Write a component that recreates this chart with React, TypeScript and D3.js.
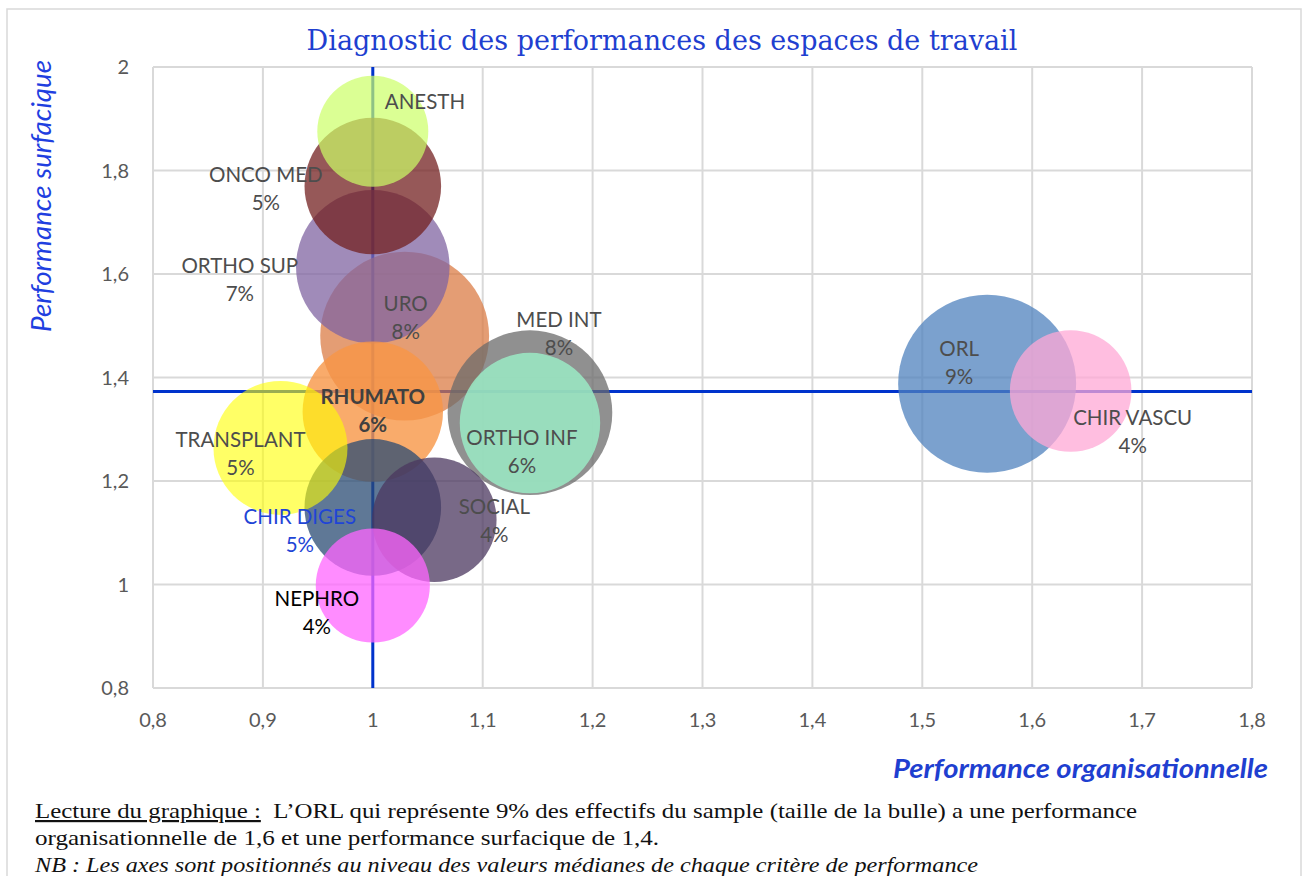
import React, { useEffect, useRef } from 'react';
import * as d3 from 'd3';

// services, largest bubble first (Excel draws the big ones underneath)
const services = ['ORL', 'URO', 'MED INT', 'ORTHO SUP', 'RHUMATO', 'ORTHO INF', 'ONCO MED', 'CHIR DIGES', 'TRANSPLANT', 'SOCIAL', 'CHIR VASCU', 'NEPHRO', 'ANESTH'];
const perfOrga = [1.559, 1.029, 1.143, 1.0, 1.0, 1.143, 1.0, 1.0, 0.916, 1.056, 1.635, 1.0, 1.0];
const perfSurf = [1.388, 1.48, 1.332, 1.614, 1.334, 1.312, 1.77, 1.149, 1.264, 1.125, 1.374, 0.998, 1.876];
const effectifs = [9, 8.1, 7.7, 6.7, 5.6, 5.6, 5.3, 5.3, 5.1, 4.4, 4.2, 3.7, 3.5];
const showPct = [true, true, true, true, true, true, true, true, true, true, true, true, false];

const xTicks = [0.8, 0.9, 1, 1.1, 1.2, 1.3, 1.4, 1.5, 1.6, 1.7, 1.8];
const yTicks = [0.8, 1, 1.2, 1.4, 1.6, 1.8, 2];
const medianOrga = 1.0;
const medianSurf = 1.373;

const title = 'Diagnostic des performances des espaces de travail';
const yTitle = 'Performance surfacique';
const xTitle = 'Performance organisationnelle';
const note1a = 'Lecture du graphique :';
const note1b = '  L\u2019ORL qui représente 9% des effectifs du sample (taille de la bulle) a une performance';
const note2 = 'organisationnelle de 1,6 et une performance surfacique de 1,4.';
const note3 = 'NB : Les axes sont positionnés au niveau des valeurs médianes de chaque critère de performance';

// look of each bubble: fill, opacity, label offset from centre, label colour
const styles: Record<string, { fill: string; op: number; dx: number; dy: number; color?: string; bold?: boolean; anchor?: string }> = {
  'ORL': { fill: '#4F81BD', op: 0.75, dx: -28, dy: -35 },
  'URO': { fill: '#D9773F', op: 0.72, dx: 1, dy: -32 },
  'MED INT': { fill: '#6B6B6B', op: 0.75, dx: 29, dy: -93 },
  'ORTHO SUP': { fill: '#8064A2', op: 0.75, dx: -133, dy: -1 },
  'RHUMATO': { fill: '#F79646', op: 0.8, dx: 0, dy: -15, color: '#404040', bold: true },
  'ORTHO INF': { fill: '#9BEBC6', op: 0.85, dx: -8, dy: 15 },
  'ONCO MED': { fill: '#732020', op: 0.75, dx: -107, dy: -11 },
  'CHIR DIGES': { fill: '#2A4B73', op: 0.75, dx: -73, dy: 10, color: '#1F45D6' },
  'TRANSPLANT': { fill: '#FFFF00', op: 0.6, dx: -40, dy: -8 },
  'SOCIAL': { fill: '#4B375F', op: 0.75, dx: 60, dy: -13 },
  'CHIR VASCU': { fill: '#FFA8D6', op: 0.75, dx: 62, dy: 27 },
  'NEPHRO': { fill: '#FF66FF', op: 0.75, dx: -56, dy: 13, color: '#000000' },
  'ANESTH': { fill: '#CCFF66', op: 0.7, dx: 12, dy: -29, anchor: 'start' },
};

const W = 1303;
const H = 876;
const sans = 'Lato, "Open Sans", sans-serif';

export default function App() {
  const ref = useRef<SVGSVGElement>(null);

  useEffect(() => {
    const svg = d3.select(ref.current);
    svg.selectAll('*').remove();

    const x = d3.scaleLinear().domain([0.8, 1.8]).range([153, 1252]);
    const y = d3.scaleLinear().domain([0.8, 2]).range([688, 67]);
    const r = d3.scaleSqrt().domain([0, 9]).range([0, 89]);

    svg.append('rect')
      .attr('x', 7).attr('y', 9).attr('width', 1294).attr('height', 880)
      .attr('fill', '#fff').attr('stroke', '#D9D9D9').attr('stroke-width', 1.5);

    // grid
    const grid = svg.append('g');
    grid.selectAll('line.v').data(xTicks).join('line')
      .attr('x1', d => x(d)).attr('x2', d => x(d))
      .attr('y1', y(2)).attr('y2', y(0.8))
      .attr('stroke', '#D9D9D9').attr('stroke-width', 2);
    grid.selectAll('line.h').data(yTicks).join('line')
      .attr('class', 'h')
      .attr('x1', x(0.8)).attr('x2', x(1.8))
      .attr('y1', d => y(d)).attr('y2', d => y(d))
      .attr('stroke', '#D9D9D9').attr('stroke-width', 2);

    const fmt = (v: number) => d3.format('~g')(+v.toFixed(1)).replace('.', ',');

    svg.append('g').selectAll('text').data(xTicks).join('text')
      .attr('x', d => x(d)).attr('y', 727)
      .attr('text-anchor', 'middle')
      .attr('font-family', sans).attr('font-size', 20).attr('fill', '#595959')
      .text(fmt);
    svg.append('g').selectAll('text').data(yTicks).join('text')
      .attr('x', 129).attr('y', d => y(d) + 7)
      .attr('text-anchor', 'end')
      .attr('font-family', sans).attr('font-size', 20).attr('fill', '#595959')
      .text(fmt);

    // median axes
    svg.append('line')
      .attr('x1', x(medianOrga)).attr('x2', x(medianOrga))
      .attr('y1', y(2)).attr('y2', y(0.8))
      .attr('stroke', '#0033CC').attr('stroke-width', 3);
    svg.append('line')
      .attr('x1', x(0.8)).attr('x2', x(1.8))
      .attr('y1', y(medianSurf)).attr('y2', y(medianSurf))
      .attr('stroke', '#0033CC').attr('stroke-width', 3);

    const data = services.map((s, i) => ({
      name: s, ox: perfOrga[i], sy: perfSurf[i], size: effectifs[i], pct: showPct[i],
    }));

    svg.append('g').selectAll('circle').data(data).join('circle')
      .attr('cx', d => x(d.ox)).attr('cy', d => y(d.sy)).attr('r', d => r(d.size))
      .attr('fill', d => styles[d.name].fill)
      .attr('fill-opacity', d => styles[d.name].op);

    const lab = svg.append('g').selectAll('text').data(data).join('text')
      .attr('x', d => x(d.ox) + styles[d.name].dx)
      .attr('y', d => y(d.sy) + styles[d.name].dy + 7)
      .attr('text-anchor', d => styles[d.name].anchor || 'middle')
      .attr('font-family', sans).attr('font-size', 20.5)
      .attr('font-weight', d => (styles[d.name].bold ? 'bold' : 'normal'))
      .attr('fill', d => styles[d.name].color || '#4D4D4D');
    lab.append('tspan').text(d => d.name);
    lab.filter(d => d.pct).append('tspan')
      .attr('x', d => x(d.ox) + styles[d.name].dx)
      .attr('dy', 28)
      .text(d => `${Math.round(d.size)}%`);

    // titles
    svg.append('text')
      .attr('x', 662).attr('y', 50).attr('text-anchor', 'middle')
      .attr('font-family', '"DejaVu Serif", serif').attr('font-size', 27)
      .attr('fill', '#1F3FD0')
      .text(title);
    svg.append('text')
      .attr('transform', 'translate(51,196) rotate(-90)')
      .attr('text-anchor', 'middle')
      .attr('font-family', sans).attr('font-size', 27).attr('font-style', 'italic')
      .attr('fill', '#1F3FE0')
      .attr('textLength', 272).attr('lengthAdjust', 'spacingAndGlyphs')
      .text(yTitle);
    svg.append('text')
      .attr('x', 1268).attr('y', 778).attr('text-anchor', 'end')
      .attr('font-family', sans).attr('font-size', 26).attr('font-style', 'italic').attr('font-weight', 'bold')
      .attr('fill', '#1F3FD0')
      .attr('textLength', 375).attr('lengthAdjust', 'spacingAndGlyphs')
      .text(xTitle);

    // reading note
    const serif = '"Liberation Serif", serif';
    const t1 = svg.append('text').attr('x', 35).attr('y', 818)
      .attr('font-family', serif).attr('font-size', 22).attr('fill', '#111')
      .attr('textLength', 1102).attr('lengthAdjust', 'spacingAndGlyphs');
    t1.append('tspan').attr('text-decoration', 'underline').text(note1a);
    t1.append('tspan').attr('xml:space', 'preserve').text(note1b);
    svg.append('text').attr('x', 35).attr('y', 845)
      .attr('font-family', serif).attr('font-size', 22).attr('fill', '#111')
      .attr('textLength', 624).attr('lengthAdjust', 'spacingAndGlyphs')
      .text(note2);
    svg.append('text').attr('x', 35).attr('y', 872)
      .attr('font-family', serif).attr('font-size', 22).attr('font-style', 'italic').attr('fill', '#111')
      .attr('textLength', 943).attr('lengthAdjust', 'spacingAndGlyphs')
      .text(note3);
  }, []);

  return (
    <div style={{ position: 'absolute', left: 0, top: 0 }}>
      <svg ref={ref} width={W} height={H} style={{ display: 'block' }} />
    </div>
  );
}
